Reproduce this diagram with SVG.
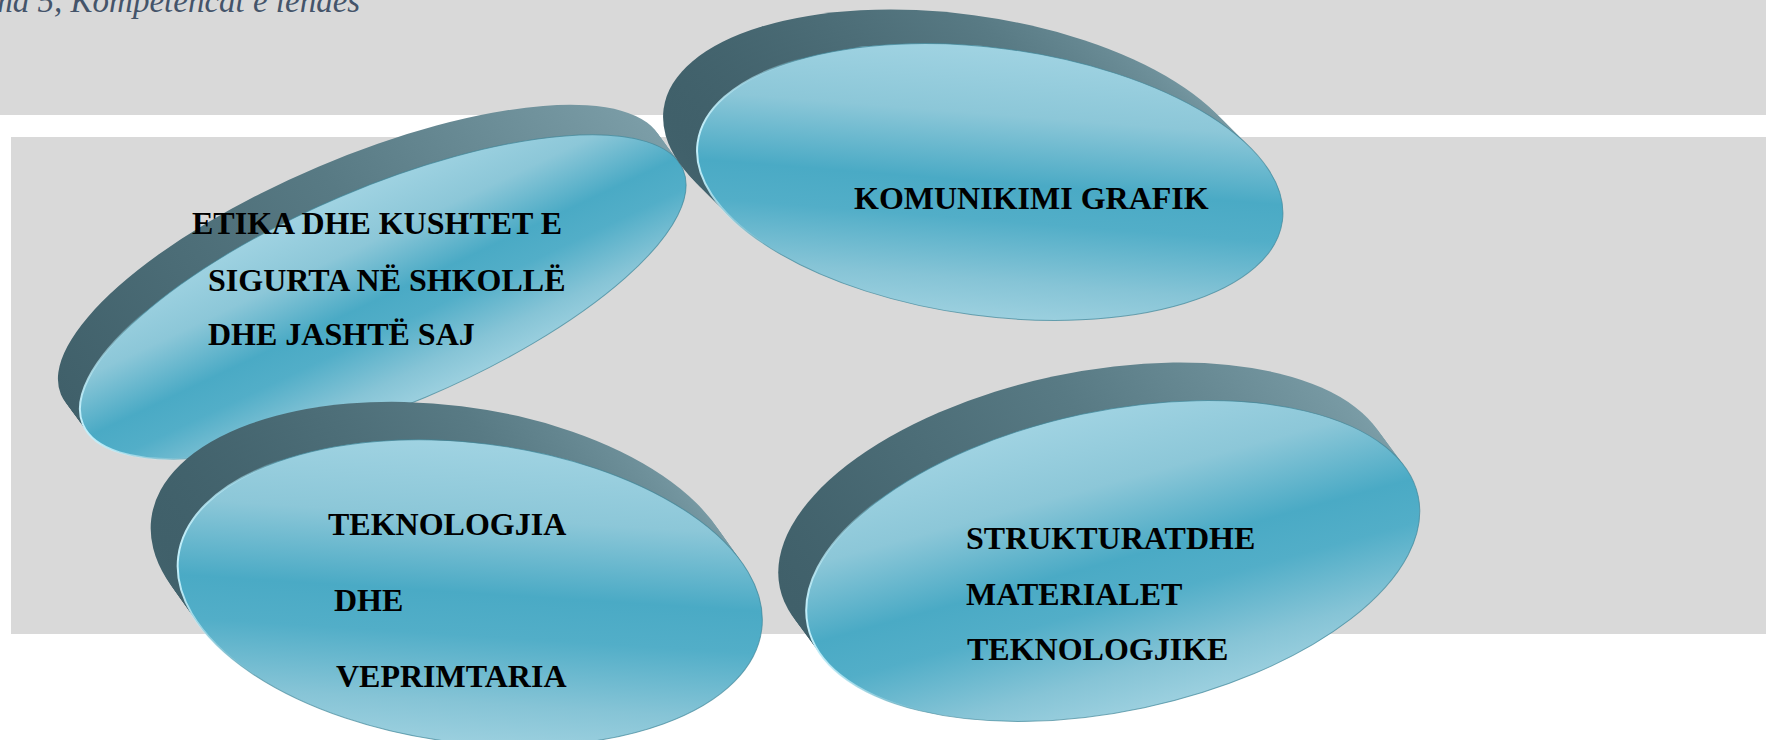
<svg xmlns="http://www.w3.org/2000/svg" xmlns:xlink="http://www.w3.org/1999/xlink" width="1766" height="740" viewBox="0 0 1766 740">
<defs>
<style>
.bg{fill:#d9d9d9}
.side use{fill:url(#sideGrad)}
.face{fill:url(#faceGrad);stroke:#3f8699;stroke-opacity:0.7;stroke-width:1}
.hl{fill:none;stroke:url(#hlGrad);stroke-width:2}
.lbl{font-family:"Liberation Serif","Times New Roman",serif;font-weight:bold;font-size:32px;fill:#000}
.title{font-family:"Liberation Serif","Times New Roman",serif;font-style:italic;font-size:33px;fill:#44546a}
</style>
<linearGradient id="sideGrad" x1="0" y1="0" x2="1" y2="0">
<stop offset="0" stop-color="#40606a"/>
<stop offset="0.5" stop-color="#587a84"/>
<stop offset="1" stop-color="#7c9ea8"/>
</linearGradient>
<linearGradient id="faceGrad" x1="0.44" y1="0" x2="0.56" y2="1">
<stop offset="0" stop-color="#a0d3e2"/>
<stop offset="0.25" stop-color="#8cc7d8"/>
<stop offset="0.5" stop-color="#4aaac5"/>
<stop offset="0.64" stop-color="#52aec8"/>
<stop offset="0.86" stop-color="#86c4d6"/>
<stop offset="1" stop-color="#9cd0df"/>
</linearGradient>
<linearGradient id="hlGrad" x1="0" y1="0" x2="1" y2="0">
<stop offset="0" stop-color="#c8f4ff" stop-opacity="0.95"/>
<stop offset="0.08" stop-color="#c8f4ff" stop-opacity="0.5"/>
<stop offset="0.16" stop-color="#c8f4ff" stop-opacity="0"/>
</linearGradient>
<ellipse id="e1" cx="0" cy="0" rx="326" ry="109" transform="translate(383,297) rotate(-23)"/>
<ellipse id="e2" cx="0" cy="0" rx="295" ry="134" transform="translate(990,182) rotate(7.6)"/>
<ellipse id="e3" cx="0" cy="0" rx="294" ry="150" transform="translate(470,593) rotate(7.1)"/>
<ellipse id="e4" cx="0" cy="0" rx="312" ry="150" transform="translate(1113,561) rotate(-12)"/>
</defs>
<rect x="0" y="0" width="1766" height="740" fill="#ffffff"/>
<rect class="bg" x="0" y="0" width="1766" height="115"/>
<rect class="bg" x="11" y="137" width="1755" height="497"/>
<text class="title" x="-11" y="12">ma 5, Kompetencat e lëndës</text>

<g id="node-etika">
<g class="side">
<use xlink:href="#e1" transform="translate(-22,-30)"/>
<use xlink:href="#e1" transform="translate(-19.25,-26.25)"/>
<use xlink:href="#e1" transform="translate(-16.5,-22.5)"/>
<use xlink:href="#e1" transform="translate(-13.75,-18.75)"/>
<use xlink:href="#e1" transform="translate(-11,-15)"/>
<use xlink:href="#e1" transform="translate(-8.25,-11.25)"/>
<use xlink:href="#e1" transform="translate(-5.5,-7.5)"/>
<use xlink:href="#e1" transform="translate(-2.75,-3.75)"/>
</g>
<use xlink:href="#e1" class="face"/>
<use xlink:href="#e1" class="hl"/>
<text class="lbl" x="192" y="234">ETIKA DHE KUSHTET E</text>
<text class="lbl" x="208" y="291">SIGURTA NË SHKOLLË</text>
<text class="lbl" x="208" y="345">DHE JASHTË SAJ</text>
</g>

<g id="node-komunikimi">
<g class="side">
<use xlink:href="#e2" transform="translate(-34,-34)"/>
<use xlink:href="#e2" transform="translate(-29.75,-29.75)"/>
<use xlink:href="#e2" transform="translate(-25.5,-25.5)"/>
<use xlink:href="#e2" transform="translate(-21.25,-21.25)"/>
<use xlink:href="#e2" transform="translate(-17,-17)"/>
<use xlink:href="#e2" transform="translate(-12.75,-12.75)"/>
<use xlink:href="#e2" transform="translate(-8.5,-8.5)"/>
<use xlink:href="#e2" transform="translate(-4.25,-4.25)"/>
</g>
<use xlink:href="#e2" class="face"/>
<use xlink:href="#e2" class="hl"/>
<text class="lbl" x="854" y="209">KOMUNIKIMI GRAFIK</text>
</g>

<g id="node-teknologjia">
<g class="side">
<use xlink:href="#e3" transform="translate(-27,-38)"/>
<use xlink:href="#e3" transform="translate(-23.6,-33.25)"/>
<use xlink:href="#e3" transform="translate(-20.25,-28.5)"/>
<use xlink:href="#e3" transform="translate(-16.9,-23.75)"/>
<use xlink:href="#e3" transform="translate(-13.5,-19)"/>
<use xlink:href="#e3" transform="translate(-10.1,-14.25)"/>
<use xlink:href="#e3" transform="translate(-6.75,-9.5)"/>
<use xlink:href="#e3" transform="translate(-3.4,-4.75)"/>
</g>
<use xlink:href="#e3" class="face"/>
<use xlink:href="#e3" class="hl"/>
<text class="lbl" x="328" y="535">TEKNOLOGJIA</text>
<text class="lbl" x="334" y="611">DHE</text>
<text class="lbl" x="336" y="687">VEPRIMTARIA</text>
</g>

<g id="node-strukturat">
<g class="side">
<use xlink:href="#e4" transform="translate(-28,-38)"/>
<use xlink:href="#e4" transform="translate(-24.5,-33.25)"/>
<use xlink:href="#e4" transform="translate(-21,-28.5)"/>
<use xlink:href="#e4" transform="translate(-17.5,-23.75)"/>
<use xlink:href="#e4" transform="translate(-14,-19)"/>
<use xlink:href="#e4" transform="translate(-10.5,-14.25)"/>
<use xlink:href="#e4" transform="translate(-7,-9.5)"/>
<use xlink:href="#e4" transform="translate(-3.5,-4.75)"/>
</g>
<use xlink:href="#e4" class="face"/>
<use xlink:href="#e4" class="hl"/>
<text class="lbl" x="966" y="549">STRUKTURATDHE</text>
<text class="lbl" x="966" y="605">MATERIALET</text>
<text class="lbl" x="967" y="660">TEKNOLOGJIKE</text>
</g>

<g id="connectors"></g>
</svg>
